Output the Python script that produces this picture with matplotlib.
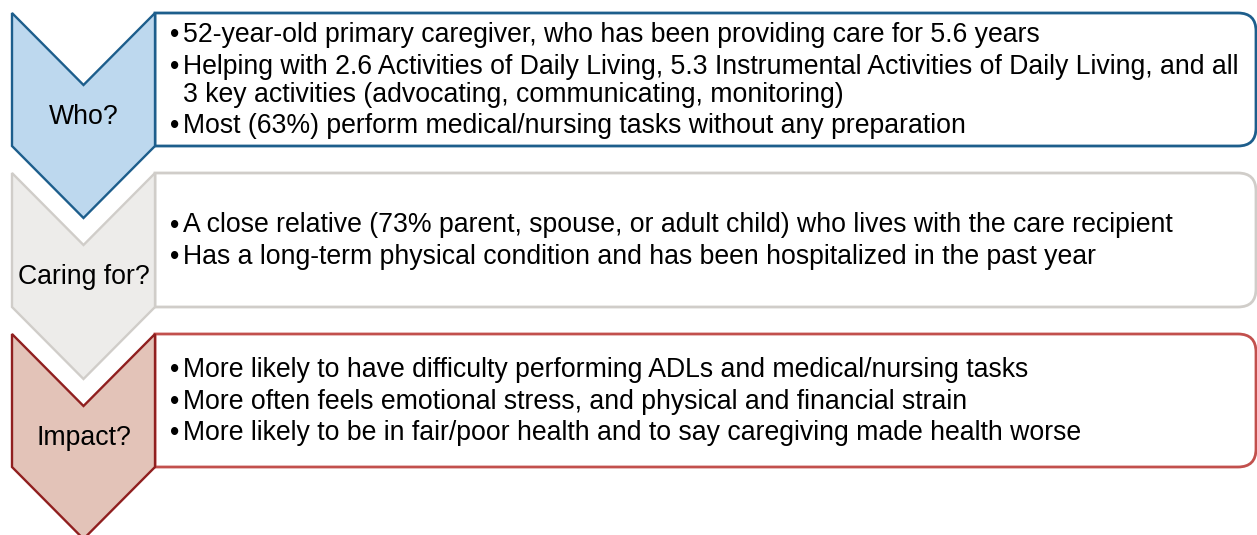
import matplotlib
matplotlib.use("Agg")
import matplotlib.pyplot as plt
from matplotlib.path import Path
from matplotlib.patches import PathPatch

plt.rcParams['font.family'] = ['Liberation Sans', 'DejaVu Sans']

labels = ["Who?", "Caring for?", "Impact?"]
bullets = [
    [["52-year-old primary caregiver, who has been providing care for 5.6 years"],
     ["Helping with 2.6 Activities of Daily Living, 5.3 Instrumental Activities of Daily Living, and all",
      "3 key activities (advocating, communicating, monitoring)"],
     ["Most (63%) perform medical/nursing tasks without any preparation"]],
    [["A close relative (73% parent, spouse, or adult child) who lives with the care recipient"],
     ["Has a long-term physical condition and has been hospitalized in the past year"]],
    [["More likely to have difficulty performing ADLs and medical/nursing tasks"],
     ["More often feels emotional stress, and physical and financial strain"],
     ["More likely to be in fair/poor health and to say caregiving made health worse"]],
]
chevron_fill = ["#BDD8EE", "#EDECEA", "#E3C3B8"]
chevron_edge = ["#1D5E8C", "#D0CDC9", "#901F1F"]
box_edge = ["#1D5E8C", "#D0CDC9", "#C2504D"]

# layout in pixels
tops = [13, 173, 334]
bottoms = [146, 307, 467]
cx0, cx1 = 12, 155
notch = 72
bx1 = 1256
rad = 18
fs = 19.2

fig = plt.figure(figsize=(12.57, 5.35), dpi=100)
ax = fig.add_axes([0, 0, 1, 1])
ax.set_xlim(0, 1257)
ax.set_ylim(535, 0)
ax.axis("off")

xc = (cx0 + cx1) / 2
for i in range(3):
    y0, y1 = tops[i], bottoms[i]
    # text box, square on the left, rounded on the right
    verts = [(cx1, y0), (bx1 - rad, y0), (bx1, y0), (bx1, y0 + rad),
             (bx1, y1 - rad), (bx1, y1), (bx1 - rad, y1), (cx1, y1), (cx1, y0)]
    codes = [Path.MOVETO, Path.LINETO, Path.CURVE3, Path.CURVE3,
             Path.LINETO, Path.CURVE3, Path.CURVE3, Path.LINETO, Path.CLOSEPOLY]
    ax.add_patch(PathPatch(Path(verts, codes), facecolor="white",
                           edgecolor=box_edge[i], lw=2.0, zorder=1))
    # chevron
    cv = [(cx0, y0), (xc, y0 + notch), (cx1, y0), (cx1, y1),
          (xc, y1 + notch), (cx0, y1), (cx0, y0)]
    ax.add_patch(PathPatch(Path(cv, closed=True), facecolor=chevron_fill[i],
                           edgecolor=chevron_edge[i], lw=1.7, zorder=2,
                           clip_on=False))
    ax.text(xc, (y0 + notch + y1) / 2 + 8.5, labels[i], ha="center", va="baseline",
            fontsize=fs, zorder=3)

    # bullet lines, block centred vertically in the box
    para_gap, line_gap = 31.5, 28
    lines = []
    y = 0
    for p, para in enumerate(bullets[i]):
        if p > 0:
            y += para_gap
        for k, ln in enumerate(para):
            if k > 0:
                y += line_gap
            lines.append((y, ln, k == 0))
    cap = 16.5
    block = y + cap
    ystart = (y0 + y1) / 2 - block / 2 + cap
    for dy, ln, first in lines:
        if first:
            ax.text(175, ystart + dy, "\u2022", ha="center", va="baseline", fontsize=fs, zorder=3)
        ax.text(183, ystart + dy, ln, ha="left", va="baseline", fontsize=fs, zorder=3)

fig.savefig("out.png", dpi=100)
